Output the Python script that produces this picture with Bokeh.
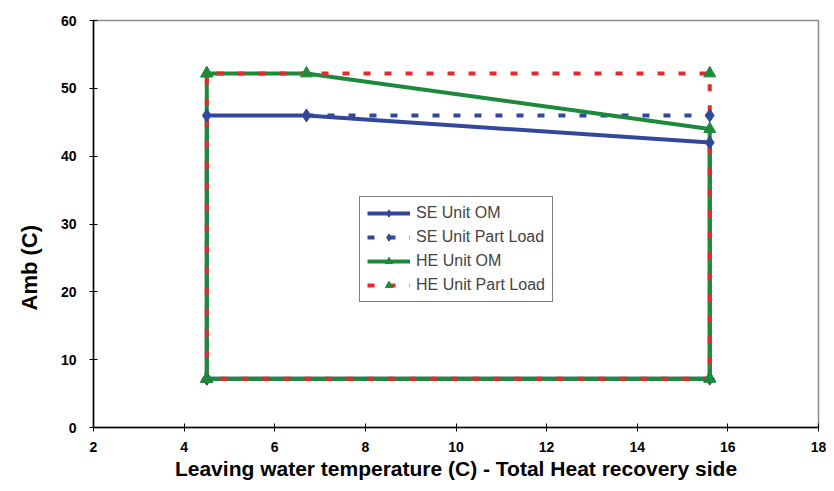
from bokeh.plotting import figure
from bokeh.models import Range1d, FixedTicker, Legend, LegendItem, Title
from bokeh.embed import file_html
from bokeh.resources import INLINE

# Data
se_om_x = [4.5, 4.5, 6.7, 15.6, 15.6, 4.5]
se_om_y = [7.2, 46.0, 46.0, 42.0, 7.2, 7.2]
se_pl_x = [6.7, 15.6]
se_pl_y = [46.0, 46.0]
he_om_x = [4.5, 4.5, 6.7, 15.6, 15.6, 4.5]
he_om_y = [7.2, 52.2, 52.2, 44.0, 7.2, 7.2]
he_pl_x = [4.5, 4.5, 15.6, 15.6, 4.5]
he_pl_y = [7.2, 52.2, 52.2, 7.2, 7.2]
x_ticks = [2, 4, 6, 8, 10, 12, 14, 16, 18]
y_ticks = [0, 10, 20, 30, 40, 50, 60]

BLUE = "#33489a"
GREEN = "#1c8a3a"
RED = "#e52a2a"
FONT = "Liberation Sans"

p = figure(width=826, height=483, output_backend="svg", toolbar_location=None,
           x_range=Range1d(2, 18), y_range=Range1d(0, 60),
           min_border_left=93, min_border_right=8, min_border_top=20, min_border_bottom=56)
p.xgrid.visible = False
p.ygrid.visible = False
p.outline_line_color = "#8c8c8c"
p.outline_line_width = 1.5
p.background_fill_color = "white"
p.border_fill_color = "white"

for ax in (p.xaxis[0], p.yaxis[0]):
    ax.axis_line_color = "black"
    ax.axis_line_width = 1.5
    ax.major_tick_line_color = "black"
    ax.major_tick_in = 4
    ax.major_tick_out = 4
    ax.minor_tick_line_color = None
    ax.major_label_text_font = FONT
    ax.major_label_text_font_style = "bold"
    ax.major_label_text_font_size = "14px"
    ax.major_label_text_color = "black"
    ax.axis_label_text_font = FONT
    ax.axis_label_text_font_style = "bold"
    ax.axis_label_text_font_size = "21px"
    ax.axis_label_text_color = "black"

p.xaxis.ticker = FixedTicker(ticks=x_ticks)
p.yaxis.ticker = FixedTicker(ticks=y_ticks)
p.xaxis.axis_label = "Leaving water temperature (C) - Total Heat recovery side"
p.xaxis.major_label_standoff = 10
p.yaxis.major_label_standoff = 13
p.xaxis.axis_label_standoff = 2

ytitle = Title(text="Amb (C)", align="left", offset=117, standoff=30,
               vertical_align="middle",
               text_font=FONT, text_font_style="bold", text_font_size="22px",
               text_color="black")
p.add_layout(ytitle, "left")

l1 = p.line(se_om_x, se_om_y, line_color=BLUE, line_width=4)
l2 = p.line(se_pl_x, se_pl_y, line_color=BLUE, line_width=4, line_dash="7 14")
l3 = p.line(he_om_x, he_om_y, line_color=GREEN, line_width=4)
l4 = p.line(he_pl_x, he_pl_y, line_color=RED, line_width=4, line_dash="7 14")

m1 = p.scatter(se_om_x, se_om_y, marker="diamond", size=13, fill_color=BLUE, line_color=BLUE)
m2 = p.scatter(se_pl_x[1:], se_pl_y[1:], marker="diamond", size=13, fill_color=BLUE, line_color=BLUE)
m3 = p.scatter(he_om_x, he_om_y, marker="triangle", size=12, fill_color=GREEN, line_color=GREEN)
m4 = p.scatter(he_pl_x, he_pl_y, marker="triangle", size=12, fill_color=GREEN, line_color=GREEN)

legend = Legend(items=[
    LegendItem(label="SE Unit OM", renderers=[l1, m1]),
    LegendItem(label="SE Unit Part Load", renderers=[l2, m2]),
    LegendItem(label="HE Unit OM", renderers=[l3, m3]),
    LegendItem(label="HE Unit Part Load", renderers=[l4, m4]),
], location=(266, 125))
legend.glyph_width = 43
legend.glyph_height = 18
legend.label_height = 18
legend.label_standoff = 6
legend.spacing = 6
legend.padding = 7
legend.margin = 0
legend.label_text_font = FONT
legend.label_text_font_size = "16px"
legend.border_line_color = "black"
legend.border_line_width = 1
legend.background_fill_alpha = 1
p.add_layout(legend, "center")

open("out.html", "w").write(file_html(p, INLINE))
